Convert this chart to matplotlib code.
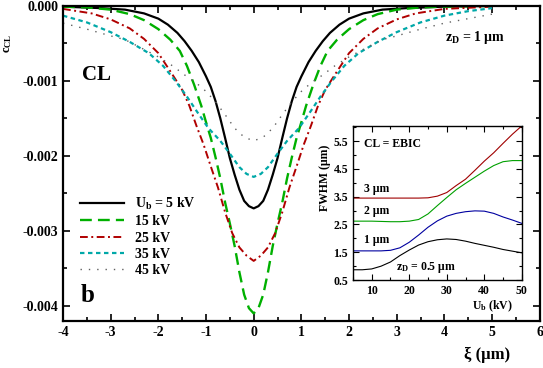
import matplotlib
matplotlib.use("Agg")
import matplotlib.pyplot as plt
from matplotlib.ticker import MultipleLocator, FormatStrFormatter

plt.rcParams['font.family'] = ['Liberation Serif', 'DejaVu Serif']
plt.rcParams['font.weight'] = 'bold'
plt.rcParams['axes.unicode_minus'] = False
plt.rcParams['mathtext.fontset'] = 'custom'
plt.rcParams['mathtext.rm'] = 'Liberation Serif:bold'
plt.rcParams['mathtext.it'] = 'Liberation Serif:bold'
plt.rcParams['mathtext.bf'] = 'Liberation Serif:bold'

# main panel: CL contrast profiles (values in units of 1e-3)
xi_5 = [-4, -3.2, -2.7, -2.3, -2, -1.8, -1.6, -1.45, -1.3, -1.15, -1, -0.9, -0.8, -0.7, -0.6, -0.5, -0.4, -0.3, -0.2, -0.1, 0,
        0.1, 0.2, 0.3, 0.4, 0.5, 0.6, 0.7, 0.8, 0.9, 1, 1.15, 1.3, 1.45, 1.6, 1.8, 2, 2.3, 2.7, 3.2, 4, 5]
c_5 = [-0.01, -0.03, -0.05, -0.10, -0.17, -0.25, -0.36, -0.47, -0.60, -0.75, -0.94, -1.08, -1.27, -1.50, -1.76, -2.03, -2.25, -2.45, -2.60, -2.67, -2.70,
       -2.67, -2.60, -2.45, -2.25, -2.03, -1.76, -1.50, -1.27, -1.08, -0.94, -0.75, -0.60, -0.47, -0.36, -0.25, -0.17, -0.10, -0.05, -0.03, -0.01, 0.0]

xi_15 = [-4, -3.5, -3, -2.6, -2.3, -2, -1.75, -1.55, -1.4, -1.25, -1.1, -1, -0.9, -0.8, -0.7, -0.6, -0.5, -0.4, -0.3, -0.2, -0.1, 0,
         0.1, 0.2, 0.3, 0.4, 0.5, 0.6, 0.7, 0.8, 0.9, 1, 1.1, 1.25, 1.4, 1.55, 1.75, 2, 2.3, 2.6, 3, 3.5, 4, 5]
c_15 = [-0.01, -0.02, -0.05, -0.11, -0.19, -0.31, -0.45, -0.60, -0.80, -1.05, -1.33, -1.55, -1.76, -2.02, -2.30, -2.62, -2.90, -3.20, -3.55, -3.85, -4.03, -4.10,
        -4.03, -3.85, -3.55, -3.20, -2.90, -2.62, -2.30, -2.02, -1.76, -1.55, -1.33, -1.05, -0.80, -0.60, -0.45, -0.31, -0.19, -0.11, -0.05, -0.02, -0.01, 0.0]

xi_25 = [-4, -3.4, -3, -2.6, -2.3, -2, -1.7, -1.5, -1.35, -1.2, -1.05, -0.9, -0.75, -0.6, -0.45, -0.3, -0.15, 0,
         0.15, 0.3, 0.45, 0.6, 0.75, 0.9, 1.05, 1.2, 1.35, 1.5, 1.7, 2, 2.3, 2.6, 3, 3.4, 4, 5]
c_25 = [-0.04, -0.10, -0.18, -0.30, -0.44, -0.63, -0.92, -1.12, -1.33, -1.60, -1.85, -2.14, -2.42, -2.75, -3.03, -3.22, -3.33, -3.40,
        -3.33, -3.22, -3.03, -2.75, -2.42, -2.14, -1.85, -1.60, -1.33, -1.12, -0.92, -0.63, -0.44, -0.30, -0.18, -0.10, -0.04, -0.01]

xi_35 = [-4, -3.5, -3, -2.6, -2.2, -1.9, -1.63, -1.4, -1.2, -0.95, -0.7, -0.5, -0.3, -0.15, 0,
         0.15, 0.3, 0.5, 0.7, 0.95, 1.2, 1.4, 1.63, 1.9, 2.2, 2.6, 3, 3.5, 4, 4.5, 5]
c_35 = [-0.13, -0.22, -0.35, -0.48, -0.63, -0.80, -1.01, -1.21, -1.40, -1.63, -1.80, -1.97, -2.15, -2.24, -2.28,
        -2.24, -2.15, -1.97, -1.80, -1.63, -1.40, -1.21, -1.01, -0.80, -0.63, -0.48, -0.35, -0.22, -0.13, -0.07, -0.03]

xi_45 = [-4, -3.5, -3, -2.7, -2.3, -2, -1.7, -1.45, -1.2, -1, -0.8, -0.6, -0.4, -0.2, 0,
         0.2, 0.4, 0.6, 0.8, 1, 1.2, 1.45, 1.7, 2, 2.3, 2.7, 3, 3.5, 4, 4.5, 5]
c_45 = [-0.23, -0.31, -0.40, -0.45, -0.58, -0.68, -0.80, -0.92, -1.03, -1.14, -1.28, -1.45, -1.63, -1.75, -1.80,
        -1.75, -1.63, -1.45, -1.28, -1.14, -1.03, -0.92, -0.80, -0.68, -0.58, -0.45, -0.40, -0.31, -0.23, -0.17, -0.11]

# inset: FWHM vs beam energy for several z_D
ub = [5, 7.5, 10, 12.5, 15, 17.5, 20, 22.5, 25, 27.5, 30, 32.5, 35, 37.5, 40, 42.5, 45, 47.5, 50]
fwhm_05 = [0.87, 0.87, 0.90, 1.00, 1.15, 1.38, 1.58, 1.76, 1.88, 1.95, 1.98, 1.96, 1.90, 1.82, 1.75, 1.68, 1.60, 1.54, 1.48]
fwhm_1 = [1.55, 1.55, 1.55, 1.55, 1.57, 1.66, 1.86, 2.12, 2.40, 2.63, 2.80, 2.90, 2.96, 2.99, 2.98, 2.90, 2.77, 2.66, 2.54]
fwhm_2 = [2.62, 2.62, 2.62, 2.61, 2.60, 2.60, 2.62, 2.68, 2.88, 3.18, 3.47, 3.75, 3.98, 4.20, 4.42, 4.62, 4.76, 4.80, 4.80]
fwhm_3 = [3.45, 3.45, 3.45, 3.45, 3.45, 3.45, 3.45, 3.45, 3.46, 3.52, 3.65, 3.90, 4.13, 4.45, 4.78, 5.08, 5.42, 5.75, 6.05]

fig = plt.figure(figsize=(5.43, 3.68), dpi=100)
ax = fig.add_axes([0.116, 0.128, 0.878, 0.856])

ax.plot(xi_5, [v * 1e-3 for v in c_5], color='black', lw=1.6, label='U$_\\mathrm{b}$ = 5 kV')
ax.plot(xi_15, [v * 1e-3 for v in c_15], color='#00b000', lw=1.7, linestyle=(0, (5, 2.6)), label='15 kV')
ax.plot(xi_25, [v * 1e-3 for v in c_25], color='#b00000', lw=1.4, linestyle=(0, (4, 1.8, 1, 1.8)), label='25 kV')
ax.plot(xi_35, [v * 1e-3 for v in c_35], color='#00a8a8', lw=1.6, linestyle=(0, (2, 1.6)), label='35 kV')
ax.plot(xi_45, [v * 1e-3 for v in c_45], color='#606060', lw=1.0, linestyle=(0, (1, 5)), label='45 kV')

ax.set_xlim(-4, 6)
ax.set_ylim(-0.0042, 0)
ax.xaxis.set_major_locator(MultipleLocator(1))
ax.xaxis.set_minor_locator(MultipleLocator(0.5))
ax.yaxis.set_major_locator(MultipleLocator(0.001))
ax.yaxis.set_minor_locator(MultipleLocator(0.0005))
ax.yaxis.set_major_formatter(FormatStrFormatter('%.3f'))
ax.tick_params(which='both', direction='in', top=True, right=True, width=1.2, labelsize=10)
ax.tick_params(which='major', length=5)
ax.tick_params(which='minor', length=3)
for s in ax.spines.values():
    s.set_linewidth(1.6)

ax.legend(loc='upper left', bbox_to_anchor=(0.147, 0.468), bbox_transform=fig.transFigure,
          frameon=False, fontsize=10, handlelength=3.2, handletextpad=0.8,
          labelspacing=0.24, borderpad=0, borderaxespad=0)

fig.text(0.177, 0.796, 'CL', fontsize=15, ha='center', va='center')
fig.text(0.162, 0.196, 'b', fontsize=18, ha='center', va='center')
fig.text(0.820, 0.897, 'z$_\\mathrm{D}$ = 1 μm', fontsize=10, ha='left', va='center')
fig.text(0.015, 0.883, 'c$_\\mathrm{CL}$', fontsize=9, rotation=90, ha='center', va='center')
fig.text(0.897, 0.035, 'ξ (μm)', fontsize=12, ha='center', va='center')

# inset
ins = fig.add_axes([0.650, 0.239, 0.311, 0.419])
ins.plot(ub, fwhm_05, color='black', lw=0.8)
ins.plot(ub, fwhm_1, color='#0000a0', lw=0.8)
ins.plot(ub, fwhm_2, color='#00a000', lw=0.8)
ins.plot(ub, fwhm_3, color='#a00000', lw=0.8)
ins.set_xlim(5, 50)
ins.set_ylim(0.5, 6.05)
ins.xaxis.set_major_locator(MultipleLocator(10))
ins.xaxis.set_minor_locator(MultipleLocator(5))
ins.yaxis.set_minor_locator(MultipleLocator(0.5))
ins.set_yticks([0.5, 1.5, 2.5, 3.5, 4.5, 5.5])
ins.yaxis.set_major_formatter(FormatStrFormatter('%.1f'))
ins.tick_params(which='both', direction='in', top=True, right=True, labelsize=8.5, width=0.8)
ins.tick_params(which='major', length=4)
ins.tick_params(which='minor', length=2)
for s in ins.spines.values():
    s.set_linewidth(1.0)

fig.text(0.670, 0.609, 'CL = EBIC', fontsize=8.5, ha='left', va='center')
fig.text(0.670, 0.486, '3 μm', fontsize=8.5, ha='left', va='center')
fig.text(0.670, 0.427, '2 μm', fontsize=8.5, ha='left', va='center')
fig.text(0.670, 0.348, '1 μm', fontsize=8.5, ha='left', va='center')
fig.text(0.729, 0.274, 'z$_\\mathrm{D}$ = 0.5 μm', fontsize=8.5, ha='left', va='center')
fig.text(0.906, 0.168, 'U$_\\mathrm{b}$ (kV)', fontsize=8.5, ha='center', va='center')
fig.text(0.598, 0.516, 'FWHM (μm)', fontsize=8.5, rotation=90, ha='center', va='center')

fig.savefig('out.png', dpi=100)
